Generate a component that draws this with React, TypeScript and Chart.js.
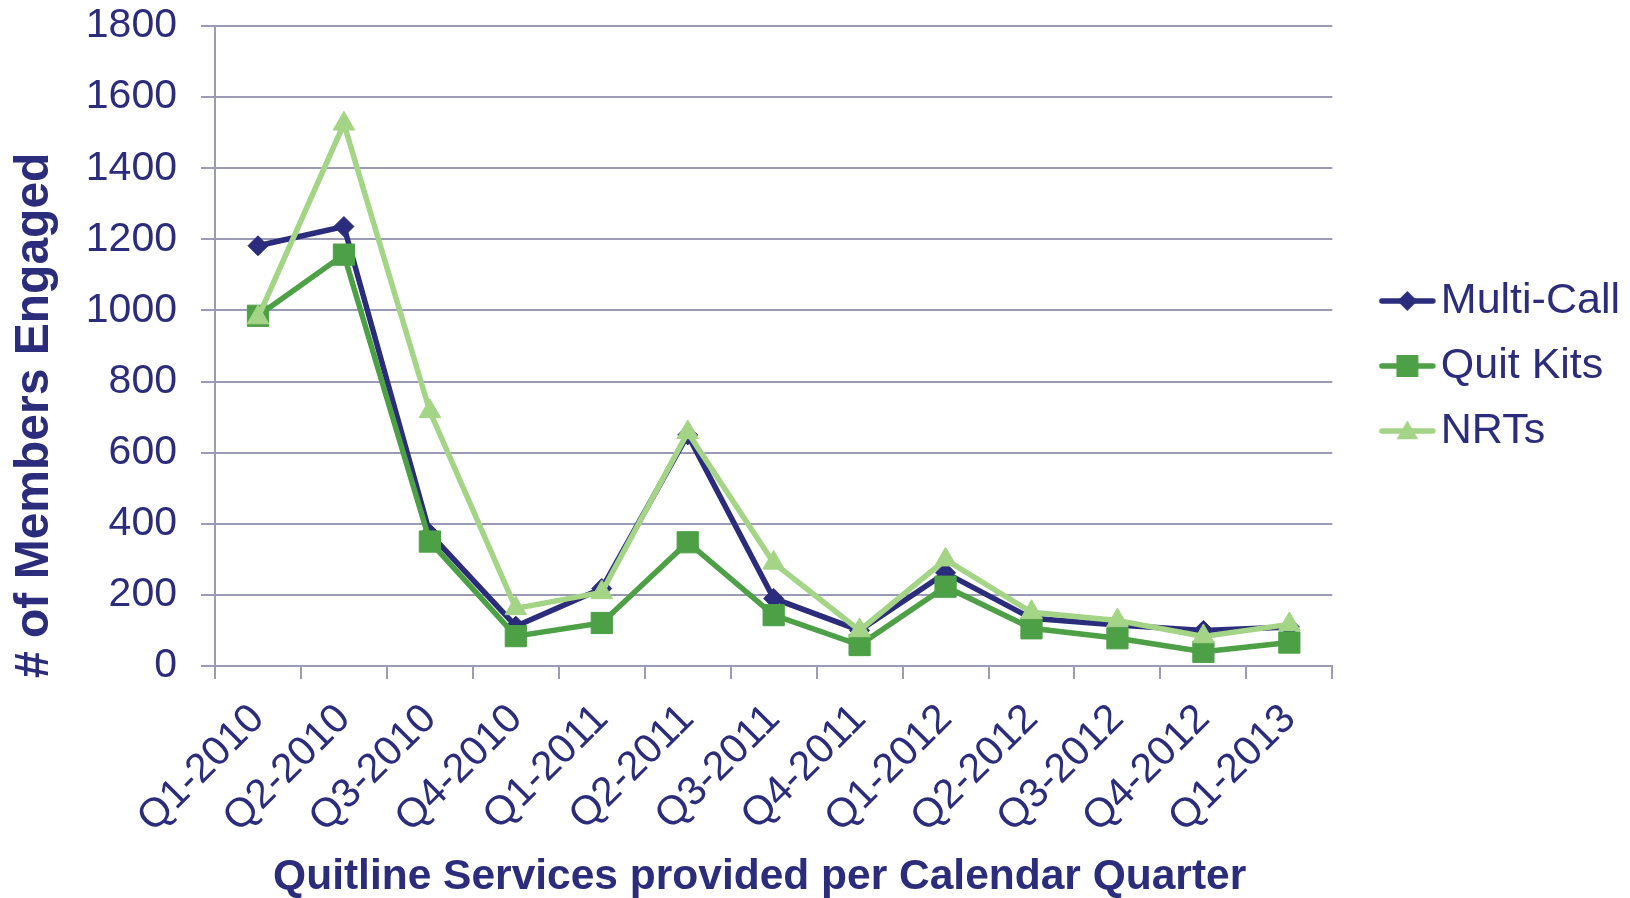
import React, { useEffect, useRef } from 'react';
import { Chart, registerables } from 'chart.js';

Chart.register(...registerables);

const categories = [
  'Q1-2010', 'Q2-2010', 'Q3-2010', 'Q4-2010',
  'Q1-2011', 'Q2-2011', 'Q3-2011', 'Q4-2011',
  'Q1-2012', 'Q2-2012', 'Q3-2012', 'Q4-2012',
  'Q1-2013',
];
const multiCall = [1182, 1236, 372, 112, 218, 650, 190, 100, 262, 134, 115, 100, 110];
const quitKits = [985, 1157, 350, 84, 121, 348, 143, 59, 223, 106, 78, 40, 66];
const nrts = [980, 1525, 716, 162, 207, 657, 290, 100, 299, 151, 128, 83, 117];
const yTicks = [0, 200, 400, 600, 800, 1000, 1200, 1400, 1600, 1800];
const seriesNames = ['Multi-Call', 'Quit Kits', 'NRTs'];
const yTitle = '# of Members Engaged';
const xTitle = 'Quitline Services provided per Calendar Quarter';

const NAVY = '#2B2C7B';
const GREEN = '#4DA046';
const LIGHT = '#A4D486';
const GRID = '#9B9BB8';
const FONT = "'Liberation Sans', Arial, Helvetica, sans-serif";

function makeIcon(color: string, style: string): HTMLCanvasElement {
  const c = document.createElement('canvas');
  c.width = 100;
  c.height = 30;
  const g = c.getContext('2d')!;
  g.strokeStyle = color;
  g.lineWidth = 5.5;
  g.lineCap = 'round';
  g.beginPath();
  g.moveTo(45, 15);
  g.lineTo(96, 15);
  g.stroke();
  g.fillStyle = color;
  const cx = 70.5;
  const cy = 15;
  g.beginPath();
  if (style === 'rectRot') {
    g.moveTo(cx - 10, cy);
    g.lineTo(cx, cy - 10);
    g.lineTo(cx + 10, cy);
    g.lineTo(cx, cy + 10);
  } else if (style === 'rect') {
    g.rect(cx - 11, cy - 11, 22, 22);
  } else {
    const r = 12.5;
    const ty = cy + 2;
    g.moveTo(cx, ty - r);
    g.lineTo(cx + r * Math.sin((2 * Math.PI) / 3), ty + r / 2);
    g.lineTo(cx - r * Math.sin((2 * Math.PI) / 3), ty + r / 2);
  }
  g.closePath();
  g.fill();
  return c;
}

const axisTitles = {
  id: 'axisTitles',
  afterDraw(chart: any) {
    const { ctx, chartArea } = chart;
    ctx.save();
    ctx.fillStyle = NAVY;
    ctx.font = `bold 48px ${FONT}`;
    ctx.translate(35, chartArea.bottom + 12);
    ctx.rotate(-Math.PI / 2);
    ctx.textAlign = 'left';
    ctx.textBaseline = 'middle';
    ctx.fillText(yTitle, 0, 0);
    ctx.restore();

    ctx.save();
    ctx.fillStyle = NAVY;
    ctx.font = `bold 42.5px ${FONT}`;
    ctx.textAlign = 'center';
    ctx.textBaseline = 'alphabetic';
    ctx.fillText(xTitle, (chartArea.left + chartArea.right) / 2 - 14, 889);
    ctx.restore();
  },
};

export default function App() {
  const ref = useRef<HTMLCanvasElement | null>(null);

  useEffect(() => {
    if (!ref.current) return;
    const colors = [NAVY, GREEN, LIGHT];
    const styles = ['rectRot', 'rect', 'triangle'];
    const icons = colors.map((c, i) => makeIcon(c, styles[i]));
    const values = [multiCall, quitKits, nrts];
    const radii = [10, 15, 12.5];

    const chart = new Chart(ref.current, {
      type: 'line',
      data: {
        labels: categories,
        datasets: values.map((d, i) => ({
          label: seriesNames[i],
          data: d,
          borderColor: colors[i],
          backgroundColor: colors[i],
          pointBackgroundColor: colors[i],
          pointBorderColor: colors[i],
          borderWidth: 5.5,
          pointStyle: styles[i] as any,
          pointRadius: radii[i],
          pointHoverRadius: radii[i],
          pointBorderWidth: 1,
          tension: 0,
          fill: false,
          order: 3 - i,
        })),
      },
      options: {
        animation: false,
        responsive: false,
        events: [],
        layout: { padding: { top: 26, left: 0, right: 0, bottom: 0 } },
        plugins: {
          tooltip: { enabled: false },
          legend: {
            position: 'right',
            align: 'center',
            fullSize: false,
            title: { display: true, text: ' ', font: { size: 10 }, padding: 14 },
            labels: {
              usePointStyle: true,
              pointStyleWidth: 65,
              padding: 22,
              color: NAVY,
              font: { family: FONT, size: 43 },
              generateLabels: () =>
                seriesNames.map((name, i) => ({
                  text: name,
                  fillStyle: colors[i],
                  strokeStyle: colors[i],
                  lineWidth: 0,
                  pointStyle: icons[i] as any,
                  hidden: false,
                  datasetIndex: i,
                  fontColor: NAVY,
                })),
            },
          },
        },
        scales: {
          x: {
            type: 'category',
            offset: true,
            grid: {
              offset: true,
              drawOnChartArea: false,
              drawTicks: true,
              tickLength: 13,
              color: GRID,
              lineWidth: 2,
            },
            border: { display: true, color: GRID, width: 2 },
            ticks: {
              color: NAVY,
              font: { family: FONT, size: 41 },
              minRotation: 45,
              maxRotation: 45,
              autoSkip: false,
              padding: 16,
            },
            afterFit: (s: any) => {
              s.height = 232;
            },
          },
          y: {
            min: 0,
            max: 1800,
            afterBuildTicks: (s: any) => {
              s.ticks = yTicks.map((v) => ({ value: v }));
            },
            grid: { color: GRID, lineWidth: 2, tickLength: 14, drawTicks: true },
            border: { display: true, color: GRID, width: 2 },
            ticks: {
              color: NAVY,
              font: { family: FONT, size: 41 },
              padding: 24,
              callback: (v: any) => String(v),
            },
            afterFit: (s: any) => {
              s.width = 215;
              s.paddingTop = 0;
              s.paddingBottom = 0;
            },
          },
        },
      },
      plugins: [axisTitles],
    });
    return () => chart.destroy();
  }, []);

  return (
    <div style={{ position: 'absolute', left: 0, top: 0, width: 1630, height: 898, background: '#fff' }}>
      <canvas ref={ref} width={1630} height={898} style={{ display: 'block', width: 1630, height: 898 }} />
    </div>
  );
}
